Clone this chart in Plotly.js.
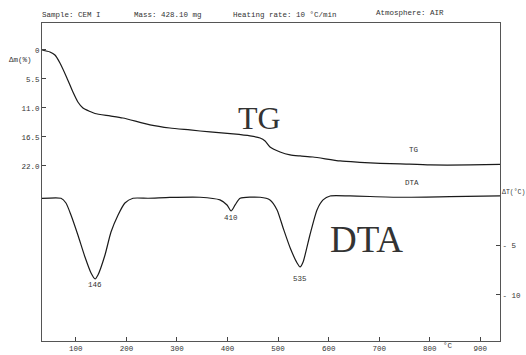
<!DOCTYPE html>
<html>
<head>
<meta charset="utf-8">
<script src="https://cdn.plot.ly/plotly-3.0.1.min.js"></script>
<style>html,body{margin:0;padding:0;background:#fff;overflow:hidden}#chart{width:526px;height:355px}</style>
</head>
<body>
<div id="chart"></div>
<script>
// TG curve: temperature (°C) and mass loss Δm (%)
const tgTemp = [33, 48.7, 58.6, 68.5, 82.3, 94.2, 104, 114, 128, 137.8, 167.5, 193, 246.6, 286, 325.8, 365.4, 411, 444.6, 464.4, 474.3, 484, 504, 523.8, 543.5, 569, 622.7, 662, 702, 741.5, 801, 880, 939];
const tgMass = [0, 0.38, 0.95, 2.47, 5.3, 7.97, 9.86, 11.0, 11.66, 12.04, 12.5, 12.9, 14.2, 14.8, 15.17, 15.55, 15.93, 16.3, 16.69, 17.26, 18.4, 19.34, 19.9, 20.1, 20.3, 21.05, 21.3, 21.5, 21.6, 21.8, 21.8, 21.7];
// DTA curve: temperature (°C) and ΔT (°C)
const dtaTemp = [33, 70.5, 80.4, 90.3, 104, 118, 130, 138, 143.7, 157.6, 169.5, 183.5, 197, 213, 243, 286, 345.6, 385, 399, 407, 415, 425, 464.4, 484, 498, 510, 524, 537.6, 543.5, 549.5, 563, 577, 589, 603, 642.5, 741.5, 840, 939];
const dtaDelta = [-0.25, -0.23, -0.71, -1.92, -3.94, -6.16, -7.78, -8.38, -7.98, -5.96, -3.64, -1.92, -0.71, -0.23, -0.23, -0.15, -0.13, -0.4, -0.91, -1.52, -0.91, -0.23, -0.13, -0.4, -1.41, -3.23, -5.25, -6.77, -7.17, -6.67, -3.94, -1.41, -0.4, 0, 0, -0.13, -0.07, 0];
// Peak labels
const peakTemp = [138, 407, 543.5];
const peakDelta = [-8.99, -2.22, -8.38];
const peakText = ["146", "410", "535"];
// Axis ticks
const xTicks = [100, 200, 300, 400, 500, 600, 700, 800, 900];
const tgTickVals = [0, 5.5, 11, 16.5, 22];
const tgTickText = ["0", "5.5", "11.0", "16.5", "22.0"];
const dtaTickVals = [-5, -10];
const dtaTickText = ["- 5", "- 10"];
const headerTexts = ["Sample: CEM I", "Mass: 428.10 mg", "Heating rate: 10 °C/min", "Atmosphere: AIR"];

const mono = {family: "Liberation Mono, DejaVu Sans Mono, monospace", size: 7.5, color: "#333"};
const monoSmall = {family: "Liberation Mono, DejaVu Sans Mono, monospace", size: 6.5, color: "#333"};
const serif = {family: "Liberation Serif, DejaVu Serif, serif", color: "#333"};

const traces = [
  {x: tgTemp, y: tgMass, mode: "lines", line: {color: "#1a1a1a", width: 1.2, shape: "spline", smoothing: 0.6}, yaxis: "y", hoverinfo: "skip", showlegend: false},
  {x: dtaTemp, y: dtaDelta, mode: "lines", line: {color: "#1a1a1a", width: 1.2, shape: "spline", smoothing: 0.6}, yaxis: "y2", hoverinfo: "skip", showlegend: false}
];

const headerX = [-0.004, 0.197, 0.412, 0.724];
const headerY = [1.025, 1.025, 1.025, 1.031];
const annotations = [];
headerTexts.forEach((t, i) => annotations.push({text: t, xref: "paper", yref: "paper", x: headerX[i], y: headerY[i], xanchor: "left", yanchor: "middle", showarrow: false, font: mono}));
peakText.forEach((t, i) => annotations.push({text: t, xref: "x", yref: "y2", x: peakTemp[i], y: peakDelta[i], xanchor: "center", yanchor: "middle", showarrow: false, font: mono}));
annotations.push({text: "Δm(%)", xref: "paper", yref: "paper", x: -0.048, y: 0.884, xanchor: "center", yanchor: "middle", showarrow: false, font: mono});
annotations.push({text: "ΔT(°C)", xref: "paper", yref: "paper", x: 1.0, y: 0.467, xanchor: "left", yanchor: "middle", showarrow: false, font: monoSmall});
annotations.push({text: "°C", xref: "paper", yref: "paper", x: 0.886, y: -0.016, xanchor: "center", yanchor: "middle", showarrow: false, font: mono});
annotations.push({text: "TG", xref: "paper", yref: "paper", x: 0.812, y: 0.601, xanchor: "center", yanchor: "middle", showarrow: false, font: mono});
annotations.push({text: "DTA", xref: "paper", yref: "paper", x: 0.808, y: 0.497, xanchor: "center", yanchor: "middle", showarrow: false, font: mono});
annotations.push({text: "TG", xref: "paper", yref: "paper", x: 0.474, y: 0.701, xanchor: "center", yanchor: "middle", showarrow: false, font: Object.assign({size: 32}, serif)});
annotations.push({text: "DTA", xref: "paper", yref: "paper", x: 0.708, y: 0.318, xanchor: "center", yanchor: "middle", showarrow: false, font: Object.assign({size: 37}, serif)});

const layout = {
  width: 526, height: 355,
  margin: {l: 42, r: 26, t: 23, b: 14},
  paper_bgcolor: "#fff", plot_bgcolor: "#fff",
  xaxis: {range: [33, 939], tickvals: xTicks, ticks: "inside", ticklen: 4, tickcolor: "#444",
    showline: true, linecolor: "#555", linewidth: 1, mirror: true, showgrid: false, zeroline: false,
    tickfont: mono, fixedrange: true},
  yaxis: {range: [55.2, -5.12], tickvals: tgTickVals, ticktext: tgTickText, ticks: "inside", ticklen: 4, tickcolor: "#444",
    showline: true, linecolor: "#555", linewidth: 1, showgrid: false, zeroline: false, tickfont: mono, fixedrange: true},
  yaxis2: {range: [-14.65, 17.47], overlaying: "y", side: "right", tickvals: dtaTickVals, ticktext: dtaTickText,
    ticks: "inside", ticklen: 4, tickcolor: "#444", showline: true, linecolor: "#555", linewidth: 1,
    showgrid: false, zeroline: false, tickfont: mono, fixedrange: true},
  annotations: annotations
};

Plotly.newPlot("chart", traces, layout, {staticPlot: true, displayModeBar: false});
</script>
</body>
</html>
